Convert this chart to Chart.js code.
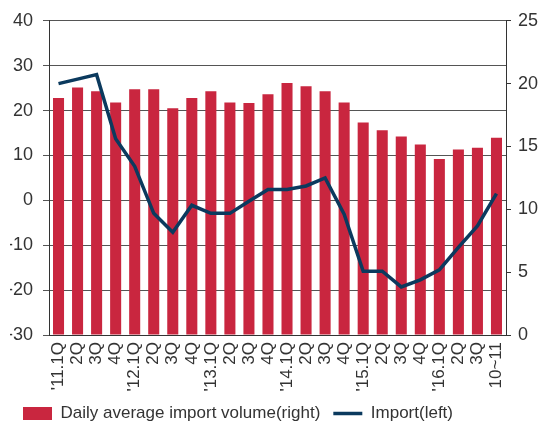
<!DOCTYPE html>
<html>
<head>
<meta charset="utf-8">
<script src="https://cdn.jsdelivr.net/npm/chart.js@4.4.1/dist/chart.umd.min.js"></script>
<style>
  html, body { margin: 0; padding: 0; background: #fff; }
  #wrap { width: 553px; height: 428px; }
</style>
</head>
<body>
<div id="wrap"><canvas id="importChart"></canvas></div>
<script>
// Quarterly labels
const categories = ["'11.1Q", '2Q', '3Q', '4Q', "'12.1Q", '2Q', '3Q', '4Q',
    "'13.1Q", '2Q', '3Q', '4Q', "'14.1Q", '2Q', '3Q', '4Q',
    "'15.1Q", '2Q', '3Q', '4Q', "'16.1Q", '2Q', '3Q', '10~11'];

// Daily average import volume (right axis)
const dailyVolume = [18.85, 19.7, 19.4, 18.5, 19.55, 19.55, 18.05, 18.85,
    19.4, 18.5, 18.45, 19.15, 20.05, 19.8, 19.4, 18.5,
    16.9, 16.3, 15.8, 15.15, 14.0, 14.75, 14.9, 15.7];

// Import growth (left axis)
const importLeft = [26.0, 27.0, 28.0, 13.7, 7.6, -2.9, -7.1, -1.1,
    -2.9, -2.9, -0.2, 2.4, 2.4, 3.2, 5.0, -3.1,
    -15.8, -15.8, -19.3, -17.7, -15.5, -10.5, -5.7, 1.5];

const leftTicks = [-30, -20, -10, 0, 10, 20, 30, 40];
const rightTicks = [0, 5, 10, 15, 20, 25];

const RED = '#c9263f';
const NAVY = '#0b3a5e';
const TEXT = '#333333';

Chart.defaults.font.family = '"Liberation Sans", Arial, sans-serif';
Chart.defaults.color = TEXT;

const ctx = document.getElementById('importChart');
new Chart(ctx, {
    data: {
        labels: categories,
        datasets: [{
            type: 'bar',
            label: 'Daily average import volume(right)',
            data: dailyVolume,
            yAxisID: 'y2',
            backgroundColor: RED,
            borderWidth: 0,
            categoryPercentage: 1,
            barPercentage: 0.58,
            order: 1
        }, {
            type: 'line',
            label: 'Import(left)',
            data: importLeft,
            yAxisID: 'y',
            borderColor: NAVY,
            backgroundColor: NAVY,
            borderWidth: 3.5,
            tension: 0,
            pointRadius: 0,
            fill: false,
            order: 0
        }]
    },
    options: {
        responsive: true,
        maintainAspectRatio: false,
        animation: false,
        layout: { padding: { top: 6, left: 10, right: 0, bottom: -4 } },
        plugins: {
            tooltip: { enabled: false },
            legend: {
                position: 'bottom',
                align: 'start',
                labels: {
                    usePointStyle: true,
                    pointStyleWidth: 29,
                    boxHeight: 13,
                    padding: 13,
                    font: { size: 17 },
                    color: TEXT,
                    sort: (a, b) => a.datasetIndex - b.datasetIndex,
                    generateLabels: (chart) => {
                        const items = Chart.defaults.plugins.legend.labels.generateLabels(chart);
                        items.forEach(it => {
                            it.pointStyle = it.datasetIndex === 0 ? 'rect' : 'line';
                        });
                        return items;
                    }
                }
            }
        },
        scales: {
            x: {
                offset: true,
                grid: { display: false, drawTicks: false },
                border: { color: '#333', width: 1 },
                afterFit: (axis) => { axis.height = 57; },
                ticks: {
                    autoSkip: false,
                    maxRotation: 90,
                    minRotation: 90,
                    padding: 7,
                    font: { size: 17 },
                    color: TEXT
                }
            },
            y: {
                position: 'left',
                min: -30,
                max: 40,
                afterBuildTicks: (axis) => { axis.ticks = leftTicks.map(v => ({ value: v })); },
                afterFit: (axis) => { axis.width = 39; },
                grid: { color: '#555', lineWidth: 1, tickLength: 6 },
                border: { color: '#333', width: 1 },
                ticks: { padding: 10, font: { size: 18 }, color: TEXT }
            },
            y2: {
                position: 'right',
                min: 0,
                max: 25,
                afterBuildTicks: (axis) => { axis.ticks = rightTicks.map(v => ({ value: v })); },
                afterFit: (axis) => { axis.width = 47; },
                grid: { drawOnChartArea: false, color: '#333', tickLength: 5 },
                border: { color: '#333', width: 1 },
                ticks: { padding: 7, font: { size: 18 }, color: TEXT }
            }
        }
    }
});
</script>
</body>
</html>
